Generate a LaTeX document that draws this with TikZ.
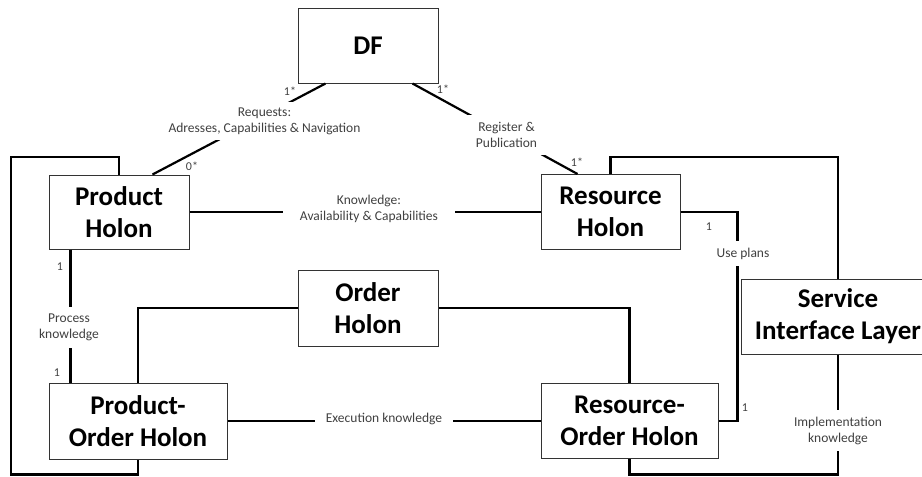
\documentclass[tikz,border=0pt]{standalone}
\usepackage{fontspec}
\setmainfont{Carlito}
\usepackage{tikz}

\begin{document}
\begin{tikzpicture}[x=1pt,y=-1pt,
	holon/.style={draw=black!80, line width=1pt, fill=white, align=center,
		inner sep=0pt, font=\fontsize{27}{32}\selectfont\bfseries},
	link/.style={line width=2.2pt},
	lbl/.style={fill=white, align=center, inner sep=0pt, text=black!75,
		font=\fontsize{13.5}{16}\selectfont},
	mult/.style={inner sep=0pt, text=black!75, font=\fontsize{12}{14}\selectfont}]
\useasboundingbox (0,0) rectangle (922,477);
\clip (0,0) rectangle (922,477);

% holons
\node[holon, minimum width=140pt, minimum height=75pt] (df) at (368,45.5) {DF};
\node[holon, minimum width=140pt, minimum height=74pt] (ph) at (119,212) {Product\\Holon};
\node[holon, minimum width=139pt, minimum height=75pt] (rh) at (610.5,212) {Resource\\Holon};
\node[holon, minimum width=140pt, minimum height=76pt] (oh) at (368,308) {Order\\Holon};
\node[holon, minimum width=178pt, minimum height=76pt] (poh) at (138,421) {Product-\\Order Holon};
\node[holon, minimum width=177pt, minimum height=75pt] (roh) at (629.5,421) {Resource-\\Order Holon};
\node[holon, minimum width=194pt, minimum height=75pt] (sil) at (838,316.5) {Service\\Interface Layer};

\coordinate (ltop) at (11,157);
\coordinate (lbot) at (11,474.5);
\coordinate (rtop) at (838,157);

% connectors
\draw[link] (ph.north) |- (ltop) -- (lbot) -| (poh.south);
\draw[link] (rh.north) |- (rtop) -- (sil.north);
\draw[link] (sil.south) -- (sil.south |- lbot) -| (roh.south);
\draw[link] ([xshift=28pt]df.south west) -- ([xshift=104pt]ph.north west);
\draw[link] ([xshift=-26pt]df.south east) -- ([xshift=37pt]rh.north west);
\draw[link] (ph.east) -- (rh.west);
\draw[link] ([xshift=22pt]ph.south west) -- ([xshift=22pt]poh.north west);
\draw[link] (poh.north) |- (oh.west);
\draw[link] (oh.east) -| (roh.north);
\draw[link] (poh.east) -- (roh.west);
\draw[link] (rh.east) -| ([xshift=19pt]roh.east) -- (roh.east);

% labels
\node[lbl, minimum width=245pt, minimum height=38pt] (req) at (264.5,121) {Requests:\\Adresses, Capabilities \& Navigation};
\node[lbl, minimum width=172pt, minimum height=42pt] (know) at (369,209) {Knowledge:\\Availability \& Capabilities};
\node[lbl, minimum width=83pt, minimum height=40pt] (reg) at (506.5,135) {Register \&\\Publication};
\node[lbl, minimum width=88pt, minimum height=41pt] (proc) at (69,327.5) {Process\\knowledge};
\node[lbl, minimum width=138pt, minimum height=23pt] (exec) at (384,418.5) {Execution knowledge};
\node[lbl, minimum width=54pt, minimum height=25pt] (use) at (743,253.5) {Use plans};
\node[lbl, minimum width=146pt, minimum height=41pt] (impl) at (838,430.5) {Implementation\\knowledge};

\foreach \x/\y/\t in {290/91/1*, 443/89/1*, 192/166/0*, 577/162/1*, 709/227/1, 745/408/1, 60/267/1, 57/373/1}
	\node[mult] (m\x) at (\x,\y) {\t};
\end{tikzpicture}
\end{document}
